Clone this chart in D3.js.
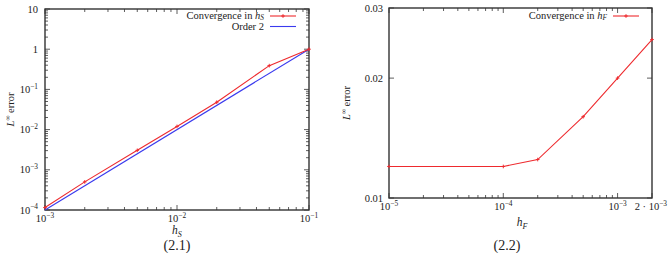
<!DOCTYPE html>
<html><head><meta charset="utf-8">
<script src="https://cdn.jsdelivr.net/npm/d3@7"></script>
<style>
body{margin:0;background:#fff;}
</style></head>
<body><svg id="c" width="669" height="253"></svg>
<script>
// Left chart data
const hS = [1e-3, 2e-3, 5e-3, 1e-2, 2e-2, 5e-2, 1e-1];
const errS = [1.15e-4, 5e-4, 3.05e-3, 0.012, 0.048, 0.39, 1];
const order2X = [1e-3, 1e-1];
const order2Y = [1e-4, 1];
const leftXTicks = [1e-3, 1e-2, 1e-1];
const leftXTickLabels = ["10^−3", "10^−2", "10^−1"];
const leftYTicks = [1e-4, 1e-3, 1e-2, 1e-1, 1, 10];
const leftYTickLabels = ["10^−4", "10^−3", "10^−2", "10^−1", "1", "10"];
// Right chart data
const hF = [1e-5, 1e-4, 2e-4, 5e-4, 1e-3, 2e-3];
const errF = [0.0120, 0.0120, 0.01249, 0.0160, 0.0200, 0.0250];
const rightXTicks = [1e-5, 1e-4, 1e-3, 2e-3];
const rightXTickLabels = ["10^−5", "10^−4", "10^−3", "2 · 10^−3"];
const rightYTicks = [0.01, 0.02, 0.03];
const rightYTickLabels = ["0.01", "0.02", "0.03"];

const RED = "#ee2a2e", BLUE = "#3a3aee", AX = "#333", TXT = "#222";
const FF = "Liberation Serif, DejaVu Serif, serif";
const svg = d3.select("#c");

function powText(sel, label, size) {
  const i = label.indexOf("^");
  if (i < 0) { sel.text(label); return; }
  sel.append("tspan").text(label.slice(0, i));
  sel.append("tspan").attr("dy", -size*0.4).attr("font-size", size*0.7).text(label.slice(i+1));
}

function minorTicks(domain) {
  const out = [];
  const lo = Math.floor(Math.log10(domain[0])), hi = Math.ceil(Math.log10(domain[1]));
  for (let e = lo; e <= hi; e++) for (let m = 2; m <= 9; m++) {
    const v = m * Math.pow(10, e);
    if (v > domain[0]*1.0001 && v < domain[1]*0.9999) out.push(v);
  }
  return out;
}

function frame(g, x, y, L, R, T, B, xMajor, yMajor, xMinor, yMinor) {
  const tk = g.append("g").attr("stroke", AX).attr("stroke-width", 0.8);
  xMajor.forEach(v => { const p = x(v);
    tk.append("line").attr("x1", p).attr("x2", p).attr("y1", B).attr("y2", B-5);
    tk.append("line").attr("x1", p).attr("x2", p).attr("y1", T).attr("y2", T+5); });
  xMinor.forEach(v => { const p = x(v);
    tk.append("line").attr("x1", p).attr("x2", p).attr("y1", B).attr("y2", B-3);
    tk.append("line").attr("x1", p).attr("x2", p).attr("y1", T).attr("y2", T+3); });
  yMajor.forEach(v => { const p = y(v);
    tk.append("line").attr("y1", p).attr("y2", p).attr("x1", L).attr("x2", L+5);
    tk.append("line").attr("y1", p).attr("y2", p).attr("x1", R).attr("x2", R-5); });
  yMinor.forEach(v => { const p = y(v);
    tk.append("line").attr("y1", p).attr("y2", p).attr("x1", L).attr("x2", L+3);
    tk.append("line").attr("y1", p).attr("y2", p).attr("x1", R).attr("x2", R-3); });
  g.append("rect").attr("x", L).attr("y", T).attr("width", R-L).attr("height", B-T)
    .attr("fill", "none").attr("stroke", AX).attr("stroke-width", 1.4);
}

function series(g, x, y, xs, ys, color, markers) {
  const pts = xs.map((v, i) => [x(v), y(ys[i])]);
  g.append("path").attr("d", d3.line()(pts)).attr("fill", "none").attr("stroke", color).attr("stroke-width", 1.1);
  if (markers) pts.forEach(p => {
    g.append("path").attr("d", `M${p[0]-1.8},${p[1]}H${p[0]+1.8}M${p[0]},${p[1]-1.8}V${p[1]+1.8}`)
      .attr("stroke", color).attr("stroke-width", 1);
  });
}

function txt(g, x, y, size, anchor) {
  return g.append("text").attr("x", x).attr("y", y).attr("font-size", size)
    .attr("text-anchor", anchor || "middle").attr("fill", TXT).attr("font-family", FF);
}

function hLabel(t, sub, size, dy) {
  t.append("tspan").attr("font-style", "italic").text("h");
  t.append("tspan").attr("font-style", "italic").attr("font-size", size*0.7).attr("dy", dy).text(sub);
}

function yLabel(g, xPos, yPos) {
  const yl = g.append("text").attr("transform", `translate(${xPos},${yPos}) rotate(-90)`)
    .attr("text-anchor", "middle").attr("font-size", 10.5).attr("fill", TXT).attr("font-family", FF);
  yl.append("tspan").attr("font-style", "italic").text("L");
  yl.append("tspan").attr("dy", -4).attr("font-size", 7).text("∞");
  yl.append("tspan").attr("dy", 4).text(" error");
}

// ---------- Left chart ----------
{
  const L = 45, R = 309, T = 9, B = 210;
  const x = d3.scaleLog().domain([1e-3, 1e-1]).range([L, R]);
  const y = d3.scaleLog().domain([1e-4, 10]).range([B, T]);
  const g = svg.append("g");
  frame(g, x, y, L, R, T, B, leftXTicks, leftYTicks, minorTicks(x.domain()), minorTicks(y.domain()));
  series(g, x, y, order2X, order2Y, BLUE, false);
  series(g, x, y, hS, errS, RED, true);
  leftXTicks.forEach((v, i) => powText(txt(g, x(v), B + 12, 10.5), leftXTickLabels[i], 10.5));
  leftYTicks.forEach((v, i) => powText(txt(g, L - 7, y(v) + 3.5, 10.5, "end"), leftYTickLabels[i], 10.5));
  hLabel(txt(g, 177, 234, 11.5), "S", 11.5, 2.5);
  yLabel(g, 14, (T+B)/2);
  txt(g, 177, 250, 14).text("(2.1)");
  // legend
  const l1 = txt(g, 264, 19, 10.5, "end");
  l1.append("tspan").text("Convergence in ");
  hLabel(l1, "S", 10.5, 1.2);
  g.append("line").attr("x1", 270).attr("x2", 296).attr("y1", 16).attr("y2", 16).attr("stroke", RED).attr("stroke-width", 1.1);
  g.append("path").attr("d", "M281.2,16H284.8M283,14.2V17.8").attr("stroke", RED).attr("stroke-width", 1);
  txt(g, 264, 30, 10.5, "end").text("Order 2");
  g.append("line").attr("x1", 270).attr("x2", 296).attr("y1", 26.5).attr("y2", 26.5).attr("stroke", BLUE).attr("stroke-width", 1.1);
}

// ---------- Right chart ----------
{
  const L = 389, R = 652, T = 8, B = 198;
  const x = d3.scaleLog().domain([1e-5, 2e-3]).range([L, R]);
  const y = d3.scaleLog().domain([0.01, 0.03]).range([B, T]);
  const g = svg.append("g");
  frame(g, x, y, L, R, T, B, rightXTicks, rightYTicks, minorTicks(x.domain()).filter(v => v < 1e-3), []);
  series(g, x, y, hF, errF, RED, true);
  rightXTicks.forEach((v, i) => {
    const t = i === 3 ? txt(g, 667, B + 12, 10.5, "end") : txt(g, x(v), B + 12, 10.5);
    powText(t, rightXTickLabels[i], 10.5);
  });
  rightYTicks.forEach((v, i) => txt(g, L - 6, y(v) + 3.5, 10.5, "end").text(rightYTickLabels[i]));
  hLabel(txt(g, 522, 226, 11.5), "F", 11.5, 2.5);
  yLabel(g, 350, (T+B)/2);
  txt(g, 507, 250, 14).text("(2.2)");
  const l1 = txt(g, 607, 19, 10.5, "end");
  l1.append("tspan").text("Convergence in ");
  hLabel(l1, "F", 10.5, 1.2);
  g.append("line").attr("x1", 613).attr("x2", 639).attr("y1", 16).attr("y2", 16).attr("stroke", RED).attr("stroke-width", 1.1);
  g.append("path").attr("d", "M624.2,16H627.8M626,14.2V17.8").attr("stroke", RED).attr("stroke-width", 1);
}
</script></body></html>
